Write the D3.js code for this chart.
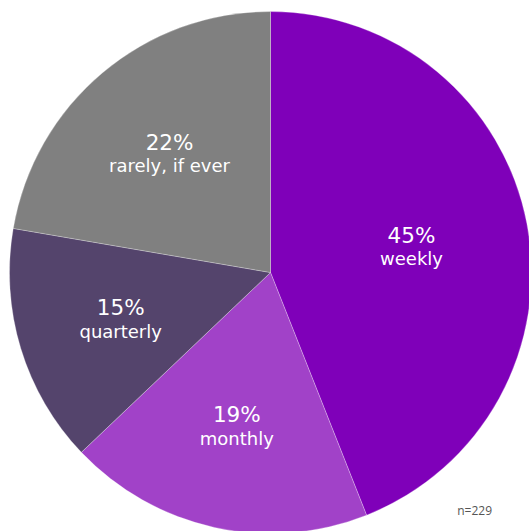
<!DOCTYPE html>
<html>
<head>
<meta charset="utf-8">
<script src="https://cdn.jsdelivr.net/npm/d3@7"></script>
<style>
  html, body { margin: 0; padding: 0; background: #fff; overflow: hidden; }
  svg { display: block; }
</style>
</head>
<body>
<div id="chart"></div>
<script>
// ---- data ----
const categories = ["weekly", "monthly", "quarterly", "rarely, if ever"];
const shares = [44.0, 18.9, 14.8, 22.3];          // slice sizes
const percentLabels = ["45%", "19%", "15%", "22%"]; // labels as printed
const colors = ["#7f00b9", "#a142c8", "#54446c", "#808080"];
const sampleNote = "n=229";

// ---- layout ----
const W = 529, H = 531;
const cx = 270.5, cy = 272.5, R = 261;
const FONT = "'DejaVu Sans', sans-serif";

const svg = d3.select("#chart").append("svg")
  .attr("width", W).attr("height", H);

const g = svg.append("g").attr("transform", `translate(${cx},${cy})`);

const pie = d3.pie().sort(null).value(d => d.v);
const data = categories.map((c, i) => ({ c, v: shares[i], p: percentLabels[i], col: colors[i] }));
const arcs = pie(data);

const arc = d3.arc().innerRadius(0).outerRadius(R);
// largest slice's label sits a little closer to the centre, as in the source
const labelR = d => R * (d.endAngle - d.startAngle > Math.PI * 0.8 ? 0.55 : 0.6);

g.selectAll("path.slice").data(arcs).enter().append("path")
  .attr("class", "slice")
  .attr("d", arc)
  .attr("fill", d => d.data.col)
  .attr("stroke", "rgba(255,255,255,0.45)")
  .attr("stroke-width", 0.6);

const lab = g.selectAll("g.lab").data(arcs).enter().append("g")
  .attr("class", "lab")
  .attr("transform", d => {
    const r = labelR(d);
    const c = d3.arc().innerRadius(r).outerRadius(r).centroid(d);
    return `translate(${c})`;
  });

lab.append("text")
  .attr("text-anchor", "middle")
  .attr("y", -3)
  .attr("fill", "#fff")
  .style("font-family", FONT)
  .style("font-size", "21.5px")
  .text(d => d.data.p);

lab.append("text")
  .attr("text-anchor", "middle")
  .attr("y", 19.5)
  .attr("fill", "#fff")
  .style("font-family", FONT)
  .style("font-size", "18px")
  .text(d => d.data.c);

svg.append("text")
  .attr("x", 492).attr("y", 515)
  .attr("text-anchor", "end")
  .attr("fill", "#555")
  .style("font-family", "'Open Sans', sans-serif")
  .style("font-size", "12px")
  .text(sampleNote);
</script>
</body>
</html>
